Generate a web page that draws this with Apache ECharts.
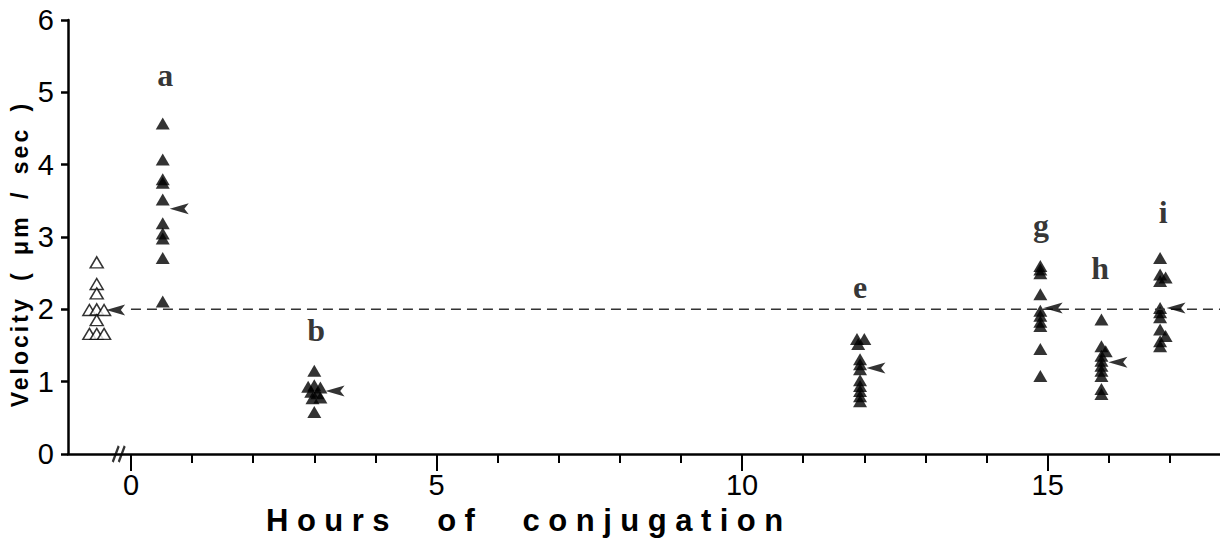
<!DOCTYPE html>
<html>
<head>
<meta charset="utf-8">
<script src="https://cdn.jsdelivr.net/npm/echarts@6/dist/echarts.min.js"></script>
<style>
html, body { margin: 0; padding: 0; background: #fff; }
#chart { width: 1220px; height: 552px; }
/* axis titles are widely tracked in the original figure */
#chart text[style*="31px"] { letter-spacing: 8.5px; word-spacing: 22px; }
#chart text[style*="23px"] { letter-spacing: 3px; word-spacing: 6px; }
</style>
</head>
<body>
<div id="chart"></div>
<script>
// control (open triangles), hours < 0
const control = [[-0.56, 2.65], [-0.56, 2.35], [-0.56, 2.22], [-0.68, 1.99], [-0.56, 2.0], [-0.44, 1.99],
    [-0.56, 1.85], [-0.68, 1.66], [-0.56, 1.66], [-0.44, 1.66]];
// conjugating cells, groups a..i
const groupA = [[0.52, 4.57], [0.52, 4.07], [0.52, 3.80], [0.52, 3.75], [0.52, 3.52], [0.52, 3.19],
    [0.52, 3.05], [0.52, 2.98], [0.52, 2.71], [0.52, 2.11]];
const groupB = [[3.0, 1.15], [2.9, 0.93], [3.0, 0.95], [3.1, 0.92], [2.95, 0.86], [3.05, 0.84],
    [2.97, 0.77], [3.1, 0.78], [3.0, 0.58]];
const groupE = [[11.88, 1.59], [12.0, 1.59], [11.9, 1.52], [11.93, 1.31], [11.93, 1.24], [11.93, 1.17],
    [11.93, 1.02], [11.93, 0.94], [11.93, 0.87], [11.93, 0.80], [11.93, 0.73]];
const groupG = [[14.88, 2.60], [14.88, 2.55], [14.88, 2.50], [14.88, 2.21], [14.88, 1.98], [14.88, 1.91],
    [14.88, 1.83], [14.88, 1.77], [14.88, 1.45], [14.88, 1.08]];
const groupH = [[15.88, 1.86], [15.88, 1.49], [15.95, 1.42], [15.88, 1.36], [15.88, 1.29], [15.88, 1.22],
    [15.88, 1.15], [15.88, 1.08], [15.88, 0.90], [15.88, 0.83]];
const groupI = [[16.84, 2.71], [16.84, 2.48], [16.93, 2.44], [16.84, 2.39], [16.84, 2.02], [16.84, 1.96],
    [16.84, 1.89], [16.84, 1.72], [16.93, 1.63], [16.84, 1.56], [16.84, 1.49]];
// mean arrows
const means = [[-0.25, 1.99], [0.79, 3.39], [3.34, 0.87], [12.19, 1.19], [15.09, 2.02], [16.15, 1.27], [17.1, 2.02]];
// group letters
const letters = ['a', 'b', 'e', 'g', 'h', 'i'];
const letterPos = [[0.56, 5.24], [3.03, 1.71], [11.93, 2.31], [14.89, 3.17], [15.86, 2.57], [16.89, 3.35]];
// reference level of controls
const refLine = [[0.0, 2.0], [17.82, 2.0]];
const breakMark = [[-0.2, 0]];
const xMajor = [0, 5, 10, 15];
const xMinor = [1, 2, 3, 4, 6, 7, 8, 9, 11, 12, 13, 14, 16, 17];

const filled = groupA.concat(groupB, groupE, groupG, groupH, groupI);

let chart = echarts.init(document.getElementById('chart'), null, {renderer: 'svg'});
chart.setOption({
    animation: false,
    backgroundColor: '#fff',
    grid: {left: 68, right: 0, top: 20, bottom: 98},
    xAxis: [
        {
            type: 'value', min: -1.03, max: 17.82,
            axisLine: {lineStyle: {color: '#000', width: 2.5}},
            axisTick: {customValues: xMinor, length: 9, lineStyle: {color: '#000', width: 2}},
            axisLabel: {customValues: xMajor, margin: 16, color: '#000', fontSize: 29, fontFamily: 'Arial'},
            splitLine: {show: false}
        },
        {
            type: 'value', min: -1.03, max: 17.82, position: 'bottom',
            axisLine: {show: false},
            axisTick: {customValues: xMajor, length: 17, lineStyle: {color: '#000', width: 2}},
            axisLabel: {show: false},
            splitLine: {show: false}
        }
    ],
    yAxis: {
        type: 'value', min: 0, max: 6, interval: 1,
        axisLine: {show: true, onZero: false, lineStyle: {color: '#000', width: 2.5}},
        axisTick: {show: true, length: 7, lineStyle: {color: '#000', width: 2.5}},
        axisLabel: {margin: 14, color: '#000', fontSize: 29, fontFamily: 'Arial'},
        splitLine: {show: false}
    },
    graphic: [
        {
            type: 'text', x: 266, y: 520,
            style: {text: 'Hours of conjugation', fill: '#000', font: 'bold 31px "Liberation Sans"',
                textAlign: 'left', textVerticalAlign: 'middle'}
        },
        {
            type: 'text', x: 20, y: 254, rotation: Math.PI / 2,
            style: {text: 'Velocity ( μm / sec )', fill: '#000', font: 'bold 23px "Liberation Sans"',
                textAlign: 'center', textVerticalAlign: 'middle'}
        }
    ],
    series: [
        {
            type: 'line', data: refLine, symbol: 'none', silent: true,
            lineStyle: {color: '#333', width: 1.5, type: [10, 6]}
        },
        {
            type: 'scatter', data: control, symbol: 'triangle', symbolSize: [13, 11],
            itemStyle: {color: '#fff', borderColor: '#000', borderWidth: 1.5}
        },
        {
            type: 'scatter', data: filled, symbol: 'triangle', symbolSize: [14, 12],
            itemStyle: {color: '#000'}
        },
        {
            type: 'scatter', data: means, symbol: 'path://M0,6 L22,0 L17,6 L22,12 Z', symbolSize: [19, 11],
            itemStyle: {color: '#000'}, z: 5
        },
        {
            type: 'scatter', symbolSize: 0,
            data: letters.map((l, i) => ({name: l, value: letterPos[i]})),
            label: {show: true, position: 'inside', formatter: '{b}', color: '#000',
                fontSize: 32, fontWeight: 'bold', fontFamily: 'Liberation Serif'}
        },
        {
            type: 'scatter', data: breakMark,
            symbol: 'path://M0,16 L6,0 M6,16 L12,0', symbolSize: [12, 16],
            itemStyle: {color: 'rgba(0,0,0,0)', borderColor: '#000', borderWidth: 2.5}, z: 6
        }
    ]
});
</script>
</body>
</html>
